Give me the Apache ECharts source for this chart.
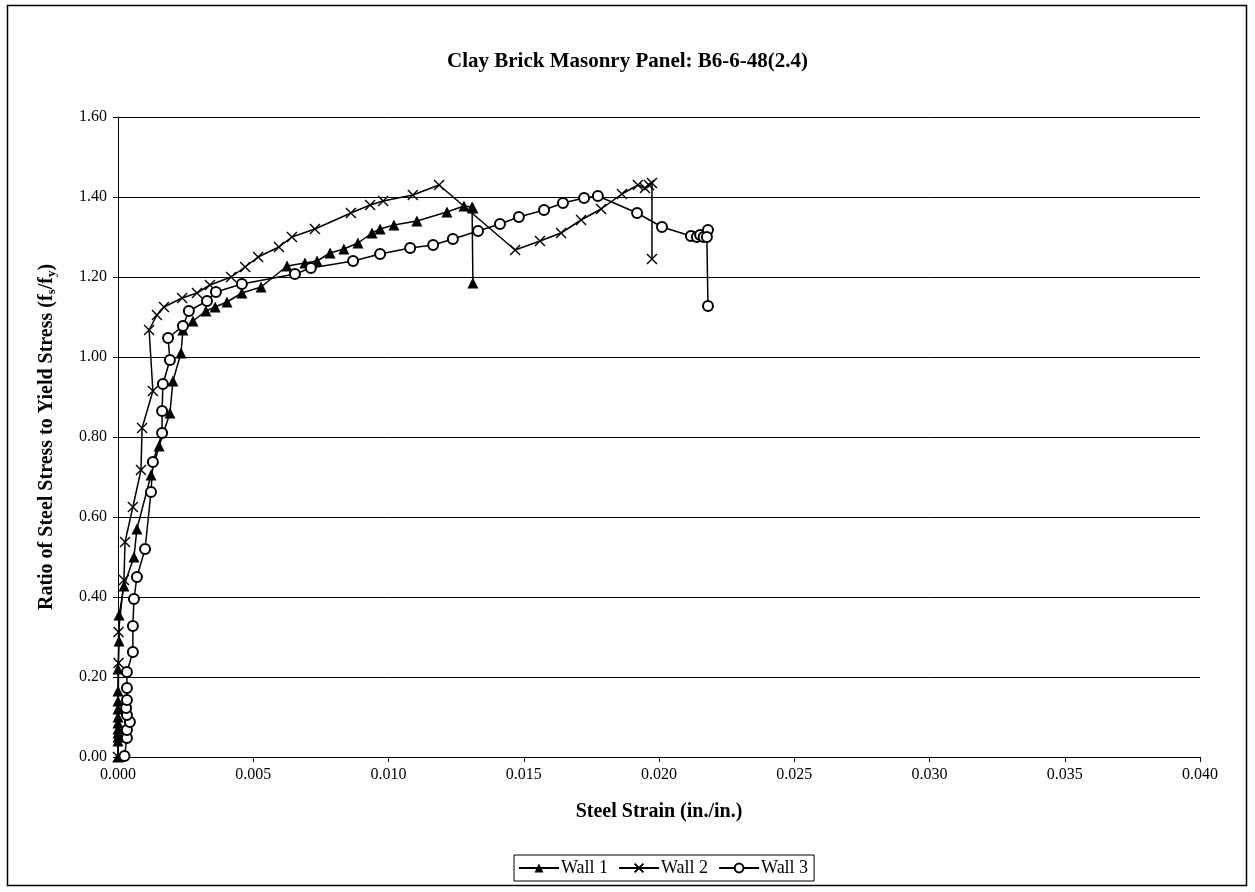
<!DOCTYPE html>
<html>
<head>
<meta charset="utf-8">
<title>Clay Brick Masonry Panel: B6-6-48(2.4)</title>
<script src="https://cdn.jsdelivr.net/npm/echarts@6/dist/echarts.min.js"></script>
<style>
  html, body { margin: 0; padding: 0; background: #fff; }
  #chart { width: 1255px; height: 892px; }
</style>
</head>
<body>
<div id="chart"></div>
<script>
// Steel strain (in./in.) and stress ratio fs/fy for each wall
const wall1Strain = [0, 0, 0, 0, 0, 0, 0, 0, 0, 0, 0, 0.00004, 0.00004, 0.00022, 0.00059, 0.0007,
  0.00122, 0.00152, 0.00192, 0.00203, 0.00233, 0.0024, 0.00277, 0.00325, 0.00359, 0.00403,
  0.00458, 0.00529, 0.00625, 0.00691, 0.00736, 0.00784, 0.00835, 0.00887, 0.00939, 0.00969,
  0.0102, 0.01105, 0.01216, 0.01279, 0.01309, 0.01312, 0.01312];
const wall1Ratio = [0, 0.04, 0.05, 0.06, 0.07, 0.085, 0.10, 0.12, 0.14, 0.165, 0.22, 0.29, 0.355,
  0.4275, 0.50, 0.57, 0.705, 0.7775, 0.86, 0.94, 1.01, 1.0675, 1.09, 1.115, 1.125, 1.1375,
  1.16, 1.175, 1.2275, 1.235, 1.24, 1.26, 1.27, 1.285, 1.31, 1.32, 1.33, 1.34, 1.3625,
  1.3775, 1.375, 1.3725, 1.185];

const wall2Strain = [0, 0.00002, 0.00002, 0.00022, 0.00026, 0.00055, 0.00085, 0.00089, 0.00129,
  0.00115, 0.00144, 0.0017, 0.00237, 0.00292, 0.0034, 0.00418, 0.0047, 0.00518, 0.00595,
  0.00643, 0.00728, 0.00861, 0.00932, 0.0098, 0.0109, 0.01187, 0.01468, 0.0156, 0.01638,
  0.01712, 0.01786, 0.01863, 0.01922, 0.01948, 0.01963, 0.01974, 0.01974];
const wall2Ratio = [0, 0.235, 0.3125, 0.4425, 0.5375, 0.625, 0.7175, 0.8225, 0.915, 1.0675,
  1.105, 1.125, 1.1475, 1.16, 1.18, 1.20, 1.225, 1.25, 1.275, 1.30, 1.32, 1.36, 1.38, 1.39,
  1.405, 1.43, 1.2675, 1.29, 1.31, 1.3425, 1.37, 1.4075, 1.43, 1.4225, 1.43, 1.435, 1.245];

const wall3Strain = [0.00024, 0.00033, 0.00033, 0.00044, 0.00033, 0.0003, 0.00033, 0.00033,
  0.00033, 0.00055, 0.00055, 0.00059, 0.0007, 0.001, 0.00122, 0.00129, 0.00163, 0.00163,
  0.00166, 0.00192, 0.00185, 0.0024, 0.00262, 0.00329, 0.00362, 0.00458, 0.00654, 0.00713,
  0.00869, 0.00969, 0.0108, 0.01165, 0.01238, 0.01331, 0.01412, 0.01482, 0.01575, 0.01645,
  0.01723, 0.01774, 0.01919, 0.02011, 0.02118, 0.0214, 0.02152, 0.02165, 0.02181, 0.02177,
  0.02181];
const wall3Ratio = [0.0025, 0.0475, 0.0675, 0.0875, 0.105, 0.1225, 0.1425, 0.1725, 0.2125,
  0.2625, 0.3275, 0.395, 0.45, 0.52, 0.6625, 0.7375, 0.81, 0.865, 0.9325, 0.9925, 1.0475,
  1.0775, 1.115, 1.14, 1.1625, 1.1825, 1.2075, 1.2225, 1.24, 1.2575, 1.2725, 1.28, 1.295,
  1.315, 1.3325, 1.35, 1.3675, 1.385, 1.3975, 1.4025, 1.36, 1.325, 1.3025, 1.30, 1.305,
  1.30, 1.3175, 1.30, 1.1275];

const seriesNames = ['Wall 1', 'Wall 2', 'Wall 3'];
const yTickLabels = ['0.00', '0.20', '0.40', '0.60', '0.80', '1.00', '1.20', '1.40', '1.60'];
const xTickLabels = ['0.000', '0.005', '0.010', '0.015', '0.020', '0.025', '0.030', '0.035', '0.040'];

const pairs = (xs, ys) => xs.map((x, i) => [x, ys[i]]);

const serif = '"Liberation Serif", "Times New Roman", serif';
const crossSymbol = 'path://M0,0L10,10M10,0L0,10';

const chart = echarts.init(document.getElementById('chart'), null, { renderer: 'canvas' });

function lineSeries(name, data, symbol, size, itemStyle) {
  return {
    name: name,
    type: 'line',
    data: data,
    symbol: symbol,
    symbolSize: size,
    showAllSymbol: true,
    animation: false,
    lineStyle: { color: '#000', width: 1.5 },
    itemStyle: itemStyle,
    emphasis: { disabled: true }
  };
}

chart.setOption({
  backgroundColor: '#fff',
  animation: false,
  title: {
    text: 'Clay Brick Masonry Panel: B6-6-48(2.4)',
    left: 'center',
    top: 46,
    textStyle: { fontFamily: serif, fontSize: 21, fontWeight: 'bold', color: '#000' }
  },
  graphic: [{
    type: 'rect',
    shape: { x: 7.5, y: 5.5, width: 1239, height: 880 },
    style: { fill: null, stroke: '#000', lineWidth: 1.5 },
    silent: true
  }],
  legend: {
    data: seriesNames,
    bottom: 11,
    left: 514,
    itemGap: 10,
    itemWidth: 40,
    itemHeight: 11,
    padding: [4, 6, 4, 4],
    borderColor: '#000',
    borderWidth: 1,
    textStyle: { fontFamily: serif, fontSize: 18, color: '#000', padding: [0, 0, 0, -3] }
  },
  grid: { left: 118, top: 117, right: 55, bottom: 135, containLabel: false },
  xAxis: {
    type: 'value',
    min: 0,
    max: 0.04,
    interval: 0.005,
    name: 'Steel Strain (in./in.)',
    nameLocation: 'middle',
    nameGap: 45,
    nameTextStyle: { fontFamily: serif, fontSize: 20, fontWeight: 'bold', color: '#000' },
    axisLine: { show: true, onZero: false, lineStyle: { color: '#000', width: 1 } },
    axisTick: { show: true, length: 5, lineStyle: { color: '#000' } },
    axisLabel: {
      margin: 10,
      fontFamily: serif, fontSize: 16, color: '#000',
      formatter: (v) => xTickLabels[Math.round(v / 0.005)] || ''
    },
    splitLine: { show: false }
  },
  yAxis: {
    type: 'value',
    min: 0,
    max: 1.6,
    interval: 0.2,
    name: 'Ratio of Steel Stress to Yield Stress (f{sub|s}/f{sub|y})',
    nameLocation: 'middle',
    nameGap: 60,
    nameTextStyle: {
      fontFamily: serif, fontSize: 20, fontWeight: 'bold', color: '#000',
      rich: {
        sub: { fontFamily: serif, fontSize: 13, fontWeight: 'bold', color: '#000', verticalAlign: 'bottom', padding: [10, 0, 0, 0] }
      }
    },
    axisLine: { show: true, lineStyle: { color: '#000', width: 1 } },
    axisTick: { show: true, length: 5, lineStyle: { color: '#000' } },
    axisLabel: {
      margin: 11,
      fontFamily: serif, fontSize: 16, color: '#000',
      formatter: (v) => yTickLabels[Math.round(v / 0.2)] || ''
    },
    splitLine: { show: true, lineStyle: { color: '#000', width: 1 } }
  },
  series: [
    lineSeries(seriesNames[0], pairs(wall1Strain, wall1Ratio), 'triangle', 11,
      { color: '#000', borderColor: '#000', borderWidth: 0 }),
    lineSeries(seriesNames[1], pairs(wall2Strain, wall2Ratio), crossSymbol, 10,
      { color: 'rgba(0,0,0,0)', borderColor: '#000', borderWidth: 1.4 }),
    lineSeries(seriesNames[2], pairs(wall3Strain, wall3Ratio), 'emptyCircle', 10,
      { color: '#000', borderColor: '#000', borderWidth: 1.4 })
  ]
});
</script>
</body>
</html>
